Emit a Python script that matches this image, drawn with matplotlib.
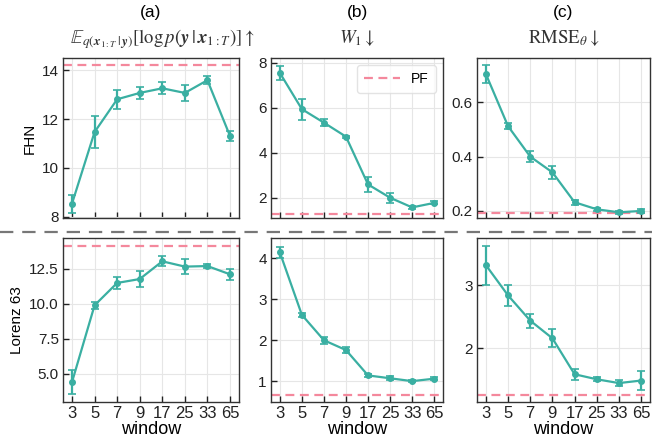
import matplotlib
matplotlib.use("Agg")
import matplotlib.pyplot as plt
from matplotlib.lines import Line2D
import numpy as np

plt.rcParams['font.family'] = ['Liberation Sans', 'DejaVu Sans']
plt.rcParams['mathtext.fontset'] = 'stix'

windows = ["3", "5", "7", "9", "17", "25", "33", "65"]

# FHN row
fhn_loglik = [8.54, 11.47, 12.81, 13.07, 13.26, 13.07, 13.59, 11.31]
fhn_loglik_err = [0.37, 0.65, 0.40, 0.25, 0.25, 0.32, 0.17, 0.22]
fhn_w1 = [7.54, 5.93, 5.33, 4.71, 2.59, 2.00, 1.57, 1.77]
fhn_w1_err = [0.30, 0.46, 0.16, 0.05, 0.32, 0.22, 0.05, 0.07]
fhn_rmse = [0.704, 0.512, 0.400, 0.342, 0.232, 0.206, 0.195, 0.200]
fhn_rmse_err = [0.032, 0.010, 0.020, 0.023, 0.010, 0.005, 0.005, 0.007]
fhn_pf = [14.23, 1.26, 0.193]

# Lorenz 63 row
lor_loglik = [4.40, 9.90, 11.50, 11.78, 13.05, 12.67, 12.71, 12.12]
lor_loglik_err = [0.88, 0.26, 0.40, 0.54, 0.35, 0.56, 0.17, 0.39]
lor_w1 = [4.15, 2.62, 2.00, 1.76, 1.14, 1.07, 1.00, 1.06]
lor_w1_err = [0.14, 0.04, 0.08, 0.07, 0.03, 0.05, 0.03, 0.03]
lor_rmse = [3.32, 2.84, 2.44, 2.16, 1.59, 1.51, 1.45, 1.49]
lor_rmse_err = [0.31, 0.17, 0.11, 0.14, 0.09, 0.03, 0.05, 0.15]
lor_pf = [14.15, 0.67, 1.265]

row_labels = ["FHN", "Lorenz 63"]
col_letters = ["(a)", "(b)", "(c)"]
col_titles = [r"$\mathbb{E}_{q(\boldsymbol{x}_{1:T}\,|\,\boldsymbol{y})}[\log p(\boldsymbol{y}\,|\,\boldsymbol{x}_{1:T})]\uparrow$",
              r"$W_1\downarrow$",
              r"$\mathrm{RMSE}_{\theta}\downarrow$"]
title_shift = [0.0625, 0.0, 0.0]

ylims = [[(7.95, 14.5), (1.1, 8.2), (0.174, 0.763)],
         [(2.97, 14.72), (0.49, 4.5), (1.15, 3.75)]]
yticks = [[[8, 10, 12, 14], [2, 4, 6, 8], [0.2, 0.4, 0.6]],
          [[5.0, 7.5, 10.0, 12.5], [1, 2, 3, 4], [2, 3]]]
yfmt = [["{:.0f}", "{:.0f}", "{:.1f}"], ["{:.1f}", "{:.0f}", "{:.0f}"]]

data = [[(fhn_loglik, fhn_loglik_err), (fhn_w1, fhn_w1_err), (fhn_rmse, fhn_rmse_err)],
        [(lor_loglik, lor_loglik_err), (lor_w1, lor_w1_err), (lor_rmse, lor_rmse_err)]]
pfs = [fhn_pf, lor_pf]

teal = "#3aafa2"
pink = "#f4889c"

W, H = 652, 445
fig = plt.figure(figsize=(W / 100, H / 100), dpi=100)

cols_px = [(63, 239), (271, 443), (477, 650)]
rows_px = [(58, 218), (238, 402)]

x = np.arange(len(windows))
for r in range(2):
    for c in range(3):
        x0, x1 = cols_px[c]
        y0, y1 = rows_px[r]
        ax = fig.add_axes([x0 / W, 1 - y1 / H, (x1 - x0) / W, (y1 - y0) / H])
        vals, errs = data[r][c]
        ax.grid(True, color="#e6e6e6", linewidth=0.8, zorder=0)
        ax.set_axisbelow(True)
        ax.axhline(pfs[r][c], color=pink, linestyle=(0, (4, 2.5)), linewidth=1.6, zorder=2, label="PF")
        ax.errorbar(x, vals, yerr=errs, color=teal, linewidth=1.6, marker="o", markersize=4,
                    capsize=3, elinewidth=1.6, capthick=1.2, zorder=3)
        ax.set_xlim(-0.4, 7.4)
        ax.set_ylim(*ylims[r][c])
        ax.set_xticks(x)
        ax.set_yticks(yticks[r][c])
        ax.set_yticklabels([yfmt[r][c].format(v) for v in yticks[r][c]])
        if r == 0:
            ax.set_xticklabels([])
        else:
            ax.set_xticklabels(windows)
            ax.set_xlabel("window", fontsize=13, labelpad=0)
        ax.tick_params(direction="in", length=4, width=1, colors="#222222", pad=3)
        ax.tick_params(axis="y", labelsize=11)
        ax.tick_params(axis="x", labelsize=12)
        for s in ax.spines.values():
            s.set_color("#333333")
            s.set_linewidth(1.0)
        if c == 0:
            ax.set_ylabel(row_labels[r], fontsize=11)
        if r == 0:
            ax.text(0.5, 1.0 + 41 / 160, col_letters[c], transform=ax.transAxes,
                    ha="center", va="baseline", fontsize=12.5)
            ax.text(0.5 + title_shift[c], 1.0 + 15 / 160, col_titles[c], transform=ax.transAxes,
                    ha="center", va="baseline", fontsize=13.5, color="#333333")
        if r == 0 and c == 1:
            ax.legend(loc="upper right", fontsize=10, handlelength=2.6, frameon=True,
                      fancybox=True, edgecolor="#dddddd", borderpad=0.5)

fig.add_artist(Line2D([0, 1], [1 - 231.7 / H, 1 - 231.7 / H], transform=fig.transFigure,
                      color="#777777", linestyle=(0, (6, 4)), linewidth=1.6))

fig.savefig("out.png", dpi=100)
